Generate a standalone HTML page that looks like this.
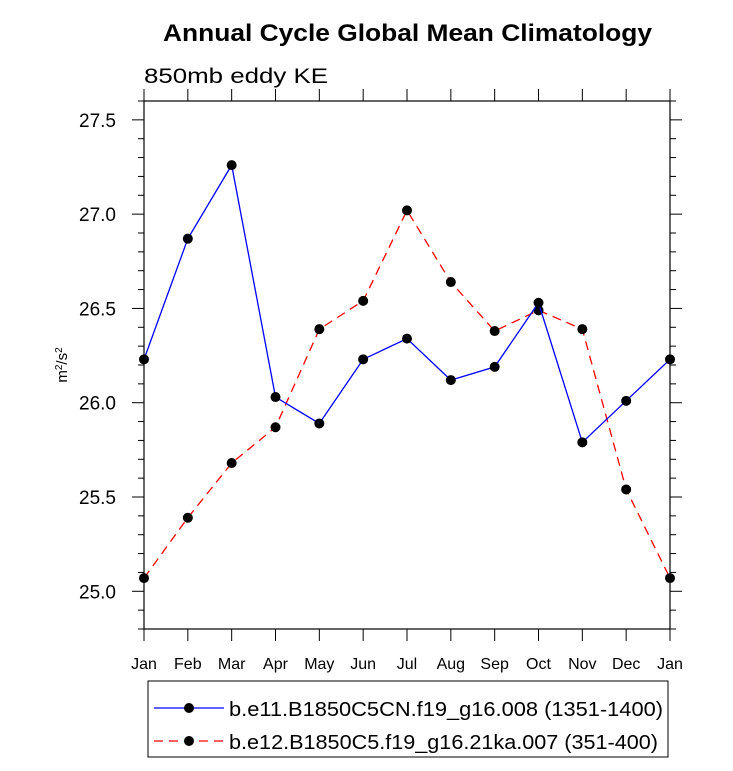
<!DOCTYPE html>
<html><head><meta charset="utf-8"><style>
body{margin:0;background:#fff;}
svg text{font-family:"Liberation Sans",Arial,sans-serif;}
</style></head><body>
<svg id="chart" width="733" height="766" xmlns="http://www.w3.org/2000/svg">
<text x="163" y="41" font-size="24" font-weight="bold" textLength="489" lengthAdjust="spacingAndGlyphs">Annual Cycle Global Mean Climatology</text>
<text x="144" y="83" font-size="21" textLength="184" lengthAdjust="spacingAndGlyphs">850mb eddy KE</text>
<text transform="translate(67,365) rotate(-90)" font-size="15" text-anchor="middle">m<tspan baseline-shift="super" font-size="10">2</tspan>/s<tspan baseline-shift="super" font-size="10">2</tspan></text>
<g id="axes"></g>
<g id="series"></g>
<rect x="148" y="681" width="520" height="76" fill="none" stroke="#000" stroke-width="1"/>
<g>
<line x1="154" y1="708" x2="224" y2="708" stroke="#0000ff" stroke-width="1.3"/>
<circle cx="189" cy="708" r="5" fill="#000"/>
<text x="229" y="716" font-size="20" textLength="434" lengthAdjust="spacingAndGlyphs">b.e11.B1850C5CN.f19_g16.008 (1351-1400)</text>
</g>
<g>
<line x1="154" y1="741" x2="224" y2="741" stroke="#ff0000" stroke-width="1.3" stroke-dasharray="9,6"/>
<circle cx="189" cy="741" r="5" fill="#000"/>
<text x="229" y="749" font-size="20" textLength="429" lengthAdjust="spacingAndGlyphs">b.e12.B1850C5.f19_g16.21ka.007 (351-400)</text>
</g>
</svg>
<script>
const months=["Jan","Feb","Mar","Apr","May","Jun","Jul","Aug","Sep","Oct","Nov","Dec","Jan"];
const blueValues=[26.23,26.87,27.26,26.03,25.89,26.23,26.34,26.12,26.19,26.53,25.79,26.01,26.23];
const redValues=[25.07,25.39,25.68,25.87,26.39,26.54,27.02,26.64,26.38,26.49,26.39,25.54,25.07];
const yTicks=[25.0,25.5,26.0,26.5,27.0,27.5];
const yTickLabels=["25.0","25.5","26.0","26.5","27.0","27.5"];
const X0=144,X1=670,Y0=101,Y1=629,YMIN=24.8,YMAX=27.6;
const NS="http://www.w3.org/2000/svg";
function xs(i){return X0+(X1-X0)*i/(months.length-1);}
function ys(v){return Y1-(v-YMIN)/(YMAX-YMIN)*(Y1-Y0);}
function mk(t,a,p){const e=document.createElementNS(NS,t);for(const k in a)e.setAttribute(k,a[k]);p.appendChild(e);return e;}
const ax=document.getElementById('axes');
const frame=mk('rect',{x:X0,y:Y0,width:X1-X0,height:Y1-Y0,fill:'none',stroke:'#000','stroke-width':1.2},ax);


for(let v=24.8;v<=27.6001;v+=0.1){
  const y=ys(v);const major=Math.abs(v*2-Math.round(v*2))<0.01;const L=major?12:6;
  mk('line',{x1:X0-L,y1:y,x2:X0,y2:y,stroke:'#000'},ax);
  mk('line',{x1:X1,y1:y,x2:X1+L,y2:y,stroke:'#000'},ax);
}
yTicks.forEach((v,i)=>{
  const t=mk('text',{x:X0-28,y:ys(v)+7,'font-size':19,'text-anchor':'end'},ax);
  t.textContent=yTickLabels[i];
  
  
});
months.forEach((m,i)=>{
  const x=xs(i);
  mk('line',{x1:x,y1:Y1,x2:x,y2:Y1+12,stroke:'#000'},ax);
  mk('line',{x1:x,y1:Y0-12,x2:x,y2:Y0,stroke:'#000'},ax);
  const t=mk('text',{x:x,y:Y1+40,'font-size':16,'text-anchor':'middle'},ax);
  t.textContent=m;
  
  
});
const sg=document.getElementById('series');
function series(vals,color,dash,name){
  const g=mk('g',{},sg);
  
  
  const pts=vals.map((v,i)=>xs(i)+','+ys(v)).join(' ');
  const a={points:pts,fill:'none',stroke:color,'stroke-width':1.3};
  if(dash)a['stroke-dasharray']=dash;
  mk('polyline',a,g);
  vals.forEach((v,i)=>{
    const c=mk('circle',{cx:xs(i),cy:ys(v),r:5,fill:'#000'},g);
    
    
  });
}
series(redValues,'#ff0000','9,6','series-red');
series(blueValues,'#0000ff',null,'series-blue');
</script>
</body></html>
